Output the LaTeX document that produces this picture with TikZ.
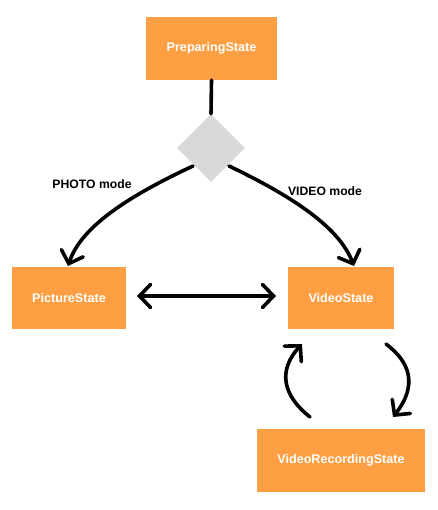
\documentclass[tikz,border=0pt]{standalone}
\usepackage{fontspec}
\setmainfont{Liberation Sans}
\usetikzlibrary{arrows.meta,shapes.geometric}
\definecolor{stateorange}{HTML}{FF9F43}
\definecolor{diagray}{HTML}{D9D9D9}
\tikzset{
  statebox/.style={fill=stateorange, draw=none, text=white, font=\bfseries\fontsize{12.6}{14}\selectfont, inner sep=0pt, anchor=center},
  conn/.style={line width=3.6pt, black, line cap=round},
  barb/.tip={Straight Barb[length=11pt,width=23pt,line cap=round]},
  tip/.style={-barb},
  lbl/.style={font=\bfseries\fontsize{12.2}{14}\selectfont, text=black}
}
\begin{document}
\begin{tikzpicture}[x=1pt,y=-1pt]
\useasboundingbox (0,0) rectangle (437,510);
\node[statebox, minimum width=131pt, minimum height=63pt] (prep) at (211.5,48.5) {PreparingState};
\node[fill=diagray, draw=none, minimum width=48pt, minimum height=48pt, rotate=45, inner sep=0pt] (dec) at (211,148) {};
\node[statebox, minimum width=114pt, minimum height=62pt] (pic) at (69,298) {PictureState};
\node[statebox, minimum width=106pt, minimum height=62pt] (vid) at (341,298) {VideoState};
\node[statebox, minimum width=168pt, minimum height=63pt] (rec) at (341,460.5) {VideoRecordingState};

\coordinate (pl) at (193,166);
\coordinate (pr) at (229,166);
\coordinate (pe) at (68,266);
\coordinate (ve) at (354,266);
\draw[conn] (prep.south) -- (dec.north east);
\draw[conn, tip] (pl) .. controls (120,200) and (80,230) .. (pe);
\draw[conn, tip] (pr) .. controls (300,200) and (340,230) .. (ve);
\coordinate (da) at (137,296);
\coordinate (db) at (276,296);
\draw[conn, barb-barb] (da) -- (db);

\coordinate (u1) at (310,417);
\coordinate (u2) at (302,344);
\draw[conn, tip] (u1) .. controls (282,395) and (278,370) .. (u2);
\coordinate (d1) at (386,344);
\coordinate (d2) at (393,417);
\draw[conn, tip] (d1) .. controls (410,362) and (418,385) .. (d2);

\node[lbl] (lp) at (92,184) {PHOTO mode};
\node[lbl] (lv) at (325,191) {VIDEO mode};
\end{tikzpicture}
\end{document}
